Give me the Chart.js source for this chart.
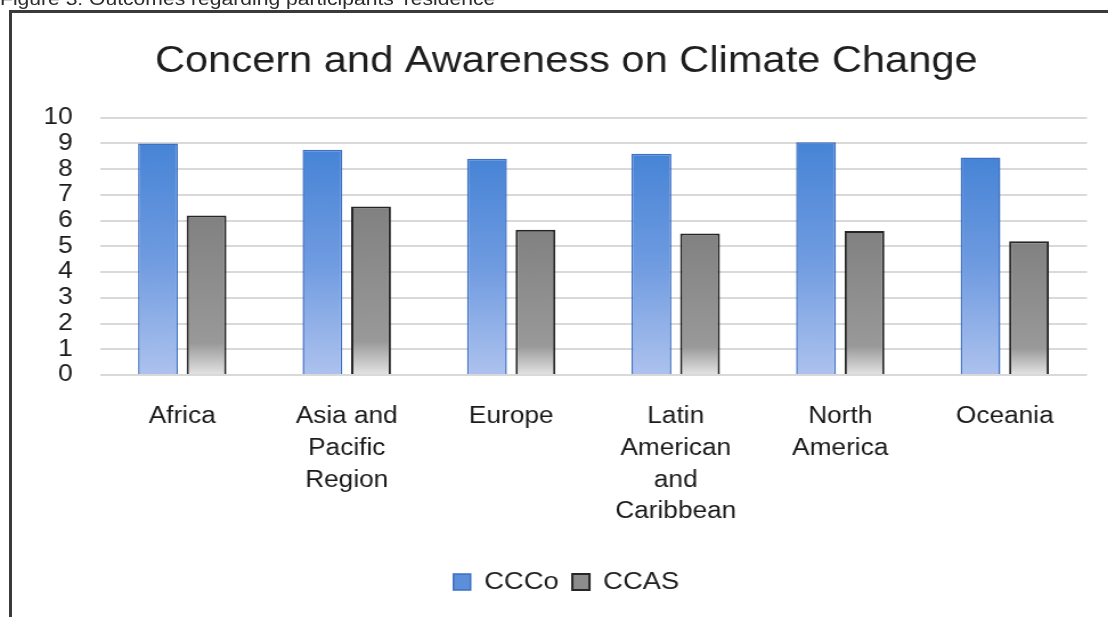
<!DOCTYPE html>
<html><head><meta charset="utf-8">
<script src="https://cdn.jsdelivr.net/npm/chart.js@4.4.1/dist/chart.umd.min.js"></script>
<style>
html,body{margin:0;padding:0;background:#fff;overflow:hidden;width:1108px;height:617px;}
#frame{position:absolute;left:9px;top:10px;width:1200px;height:700px;border-top:3px solid #3a3a3a;border-left:3px solid #3a3a3a;}
#wrap{position:absolute;left:0;top:0;width:972px;height:617px;transform:scaleX(1.14);transform-origin:0 0;}
#caption{position:absolute;left:0;top:-10px;font:18.5px "Liberation Sans",Arial,sans-serif;line-height:18px;color:#2b2b2b;white-space:nowrap;}
#cv{position:absolute;left:0;top:0;}
</style></head><body>
<div id="frame"></div>
<div id="wrap"><div id="caption">Figure 3: Outcomes regarding participants' residence</div><canvas id="cv" width="972" height="617"></canvas></div>
<script>
const chartTitle = "Concern and Awareness on Climate Change";
const categories = ["Africa", ["Asia and","Pacific","Region"], "Europe", ["Latin","American","and","Caribbean"], ["North","America"], "Oceania"];
const seriesNames = ["CCCo", "CCAS"];
const cccoValues = [9.0, 8.75, 8.4, 8.6, 9.05, 8.45];
const ccasValues = [6.2, 6.55, 5.65, 5.5, 5.6, 5.2];
const yMin = 0, yMax = 10, yStep = 1;

const FONT = '"Liberation Sans", Arial, sans-serif';
const blueStops = [[0,'#4784d6'],[0.5,'#6f9be0'],[1,'#adc2ee']];
const grayStops = [[0,'#818181'],[0.8,'#999999'],[1,'#e4e4e4']];

function barGradient(stops, fallback){
  return function(ctx){
    if (ctx.type !== 'data') return fallback;
    const chart = ctx.chart;
    if (!chart.chartArea || !chart.scales.y) return fallback;
    const ys = chart.scales.y;
    const top = ys.getPixelForValue(ctx.raw);
    const bottom = ys.getPixelForValue(0);
    if (!isFinite(top) || !isFinite(bottom) || top === bottom) return fallback;
    const g = chart.ctx.createLinearGradient(0, top, 0, bottom);
    stops.forEach(s => g.addColorStop(s[0], s[1]));
    return g;
  };
}

new Chart(document.getElementById('cv'), {
  type: 'bar',
  data: {
    labels: categories,
    datasets: [
      { label: seriesNames[0], data: cccoValues, backgroundColor: barGradient(blueStops,'#5b8fd9'),
        borderColor: '#3d6fc2', borderWidth: 1.5, barPercentage: 0.82, categoryPercentage: 0.59 },
      { label: seriesNames[1], data: ccasValues, backgroundColor: barGradient(grayStops,'#8c8c8c'),
        borderColor: '#262626', borderWidth: 2, barPercentage: 0.82, categoryPercentage: 0.59 }
    ]
  },
  options: {
    responsive: false,
    animation: false,
    devicePixelRatio: 1,
    layout: { padding: { top: 0, left: 40, right: 18.5, bottom: 13 } },
    plugins: {
      tooltip: { enabled: false },
      title: { display: true, text: chartTitle, color: '#1e1e1e',
        font: { family: FONT, size: 36.5, weight: 'normal', lineHeight: 1.2 },
        padding: { top: 40.5, bottom: 33.4 } },
      legend: { position: 'bottom',
        labels: { color: '#222', font: { family: FONT, size: 24 }, boxWidth: 15, boxHeight: 16, padding: 12,
          generateLabels: function(chart){
            return [
              { text: seriesNames[0], fillStyle: '#5b8fd9', strokeStyle: '#3d6fc2', lineWidth: 1.5, datasetIndex: 0, hidden: false, fontColor: '#222' },
              { text: seriesNames[1], fillStyle: '#8c8c8c', strokeStyle: '#262626', lineWidth: 2, datasetIndex: 1, hidden: false, fontColor: '#222' }
            ];
          } } }
    },
    scales: {
      x: {
        grid: { display: false, drawTicks: false },
        border: { display: false },
        ticks: { color: '#1a1a1a', font: { family: FONT, size: 23, lineHeight: 1.38 }, padding: 26, maxRotation: 0, autoSkip: false },
        afterFit: function(s){ s.height = 183; }
      },
      y: {
        min: yMin, max: yMax,
        grid: { color: '#d9d9d9', lineWidth: 2, drawTicks: false },
        border: { display: false },
        ticks: { stepSize: yStep, autoSkip: false, color: '#1a1a1a', font: { family: FONT, size: 23, lineHeight: 1.0 }, padding: 24 },
        afterFit: function(s){ s.width = 47.7; }
      }
    }
  }
});
</script>
</body></html>
